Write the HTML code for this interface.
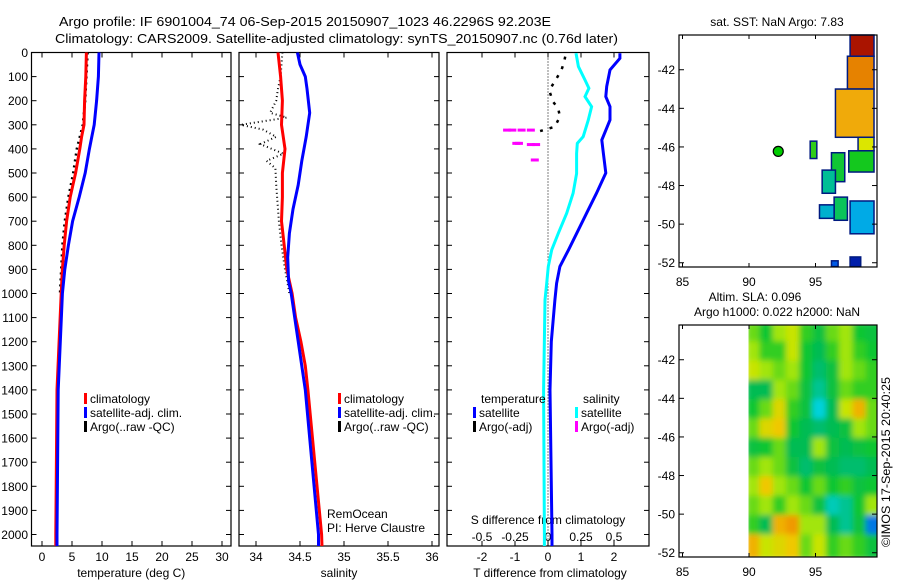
<!DOCTYPE html>
<html><head><meta charset="utf-8"><style>
html,body{margin:0;padding:0;background:#fff;}
svg{display:block;font-family:"Liberation Sans",sans-serif;}
</style></head><body>
<svg id="fig" width="900" height="580" viewBox="0 0 900 580" xmlns="http://www.w3.org/2000/svg">
<defs>
<clipPath id="c1"><rect x="31.5" y="52.5" width="199.5" height="493.5"/></clipPath>
<clipPath id="c2"><rect x="239" y="52.5" width="200" height="493.5"/></clipPath>
<clipPath id="c3"><rect x="447" y="52.5" width="202" height="493.5"/></clipPath>
<clipPath id="cm2"><rect x="748.5" y="325" width="128.5" height="232"/></clipPath>
<filter id="blur"><feGaussianBlur stdDeviation="3"/></filter>
</defs>
<g id="root"></g>
</svg>
<script>
// ---------- data ----------
const tDepth = [0,100,200,300,350,400,500,600,700,800,900,1000,1400,2000,2050];
const tClim  = [7.4,7.3,7.1,7.0,6.6,6.3,5.6,4.7,4.1,3.7,3.4,3.2,2.5,2.3,2.3];
const tSat   = [9.5,9.4,9.1,8.7,8.3,7.9,7.2,6.2,5.1,4.4,3.8,3.4,2.7,2.5,2.5];
const argoTDepth = [0,100,200,300,400,500,600,700,800,900,1000];
const argoT      = [7.6,7.4,7.2,6.8,5.8,5.2,4.4,3.8,3.4,3.2,3.0];

const sClimDepth = [0,100,200,300,400,500,600,700,800,900,1000,1100,1200,1300,1400,2000,2050];
const sClim      = [34.25,34.28,34.30,34.29,34.33,34.30,34.30,34.29,34.32,34.35,34.41,34.45,34.51,34.56,34.59,34.745,34.75];
const sSatDepth  = [0,50,100,150,250,350,450,550,650,750,850,950,1000,1400,2000,2050];
const sSat       = [34.47,34.50,34.56,34.58,34.61,34.57,34.52,34.48,34.42,34.38,34.36,34.37,34.40,34.56,34.71,34.71];
const argoSDepth = [0,100,150,200,250,270,300,320,350,380,420,450,480,550,700,800,900,1000];
const argoS      = [34.30,34.28,34.25,34.23,34.16,34.35,33.83,34.08,34.23,34.05,34.31,34.12,34.22,34.23,34.26,34.29,34.33,34.38];

const tdDepth = [3,24,72,141,183,225,280,363,419,500,584,667,750,819,888,958,1027,1200,1400,2000,2050];
const tdSat   = [2.18,2.18,1.88,1.78,1.75,1.88,1.88,1.63,1.68,1.75,1.47,1.17,0.87,0.62,0.36,0.26,0.21,0.10,0.06,0.12,0.12];
const sdDepth = [3,58,114,148,183,225,280,349,377,419,502,584,667,750,819,888,958,1027,1400,2000,2050];
const sdSat   = [0.212,0.23,0.28,0.31,0.28,0.33,0.305,0.267,0.222,0.217,0.217,0.19,0.142,0.078,0.028,0.002,-0.01,-0.023,-0.033,-0.027,-0.027];
const tdArgoDepth = [17,38,72,107,141,162,204,232,266,308,326];
const tdArgo      = [0.52,0.49,0.41,0.26,0.11,0.05,0.15,0.31,0.36,0.21,-0.24];
const sdArgoDepth = [322,322,322,322,377,377,382,382,446];
const sdArgo      = [-0.31,-0.27,-0.20,-0.13,-0.24,-0.22,-0.13,-0.09,-0.10];

const depthTicks = [0,100,200,300,400,500,600,700,800,900,1000,1100,1200,1300,1400,1500,1600,1700,1800,1900,2000];
const tTicks = [0,5,10,15,20,25,30];
const sTicks = [34,34.5,35,35.5,36];
const sTickLabels = ["34","34.5","35","35.5","36"];
const tdTicks = [-2,-1,0,1,2];
const sdTicks = [-0.5,-0.25,0,0.25,0.5];
const sdTickLabels = ["-0.5","-0.25","0","0.25","0.5"];
const latTicks = [-42,-44,-46,-48,-50,-52];
const lonTicks = [85,90,95];

const sstPatches = [
 [97.6,99.4,-40.2,-41.3,12],[97.4,99.4,-41.3,-43.0,10],[96.5,99.4,-43.0,-45.5,9],
 [98.2,99.4,-45.5,-46.2,7.5],[97.5,99.4,-46.2,-47.3,6],[94.6,95.1,-45.7,-46.6,6.2],
 [96.2,97.2,-46.3,-47.8,5.8],[95.5,96.5,-47.2,-48.4,5],[96.4,97.4,-48.6,-49.8,5.5],
 [95.3,96.4,-49.0,-49.7,4.3],[97.6,99.4,-48.8,-50.5,4],[97.6,98.4,-51.7,-52.2,2],[96.2,96.7,-51.9,-52.2,3]
];
const argoLon = 92.2, argoLat = -46.23;
const slaLon0 = 90, slaLat0 = -40.2;
const slaGrid = [
 [0.3,0.1,0.4,0.5,0.2,0.0,0.3,0.4,0.1,0.0],
 [0.4,0.2,0.2,0.5,0.1,-0.1,0.2,0.4,0.2,0.1],
 [0.5,0.4,0.3,0.4,0.1,-0.2,0.0,0.4,0.3,0.2],
 [-0.1,-0.1,0.4,0.3,0.0,-0.3,0.0,0.3,0.2,0.2],
 [0.1,0.3,0.6,0.2,0.0,-0.5,-0.1,0.5,0.8,0.3],
 [0.3,0.6,0.7,0.1,-0.1,-0.2,-0.1,0.0,0.4,0.3],
 [0.0,0.1,0.3,-0.1,-0.1,0.4,0.0,-0.1,0.0,0.1],
 [0.3,0.4,0.3,0.0,-0.2,0.0,-0.1,-0.2,-0.2,-0.1],
 [0.4,0.7,0.4,0.3,0.1,0.3,0.1,0.2,0.0,0.1],
 [0.3,0.4,0.2,0.4,0.3,0.0,-0.4,-0.3,0.1,0.4],
 [0.2,-0.1,0.8,0.9,0.4,0.4,-0.1,-0.3,0.0,-0.8],
 [0.8,0.5,0.6,0.7,0.3,0.5,0.2,0.3,0.2,0.0]
];

// ---------- scales ----------
const depthY = d => 52.5 + d*0.241;
const tX = t => 42 + 6*t;
const sX = s => 256 + 88*(s-34);
const dX = v => 548 + 33*v;
const sdX = v => 548 + 132*v;
const lonX = l => 682.5 + 13.3*(l-85);
const latY = (lat, top) => top + (-40.2-lat)*19.3;

const NS = "http://www.w3.org/2000/svg";
const root = document.getElementById('root');
function mk(tag, attrs, parent){
  const e = document.createElementNS(NS, tag);
  for (const k in attrs) e.setAttribute(k, attrs[k]);
  (parent||root).appendChild(e);
  return e;
}
function txt(x,y,s,size,anchor,parent){
  const e = mk('text',{x:x,y:y,'font-size':size||12,'text-anchor':anchor||'middle',fill:'#000'},parent);
  e.textContent = s; return e;
}
function line(xs, ys, color, w, dash, clip, name){
  const pts = xs.map((x,i)=>x.toFixed(1)+','+ys[i].toFixed(1)).join(' ');
  const a = {points:pts,fill:'none',stroke:color,'stroke-width':w,'stroke-linejoin':'miter'};
  if (dash) a['stroke-dasharray']=dash;
  if (clip) a['clip-path']='url(#'+clip+')';
  const e = mk('polyline',a);
  
  
  return e;
}

// ---------- titles ----------
let t1 = txt(59,26,"Argo profile: IF 6901004_74 06-Sep-2015 20150907_1023 46.2296S 92.203E",13,'start');
t1.setAttribute('textLength','492'); t1.setAttribute('lengthAdjust','spacingAndGlyphs');


let t2 = txt(55,43,"Climatology: CARS2009. Satellite-adjusted climatology: synTS_20150907.nc (0.76d later)",13,'start');
t2.setAttribute('textLength','563'); t2.setAttribute('lengthAdjust','spacingAndGlyphs');



// ---------- panel frames & ticks ----------
const panels = [
 {x0:31.5,x1:231,name:'temperature-panel',ticks:tTicks,labels:tTicks.map(String),sc:tX,title:'temperature (deg C)'},
 {x0:239,x1:439,name:'salinity-panel',ticks:sTicks,labels:sTickLabels,sc:sX,title:'salinity'},
 {x0:447,x1:649,name:'difference-panel',ticks:tdTicks,labels:tdTicks.map(String),sc:dX,title:'T difference from climatology'}
];
const yTop=52.5, yBot=546;
panels.forEach((p,pi)=>{
  const g = mk('g',{});
  
  
  const r = mk('rect',{x:p.x0,y:yTop,width:p.x1-p.x0,height:yBot-yTop,fill:'none',stroke:'#000','stroke-width':1.2},g);
  
  
  depthTicks.forEach(d=>{
    const y=depthY(d);
    mk('line',{x1:p.x0,x2:p.x0+5,y1:y,y2:y,stroke:'#000'},g);
    mk('line',{x1:p.x1-5,x2:p.x1,y1:y,y2:y,stroke:'#000'},g);
  });
  p.ticks.forEach((v,i)=>{
    const x=p.sc(v);
    mk('line',{x1:x,x2:x,y1:yTop,y2:yTop+5,stroke:'#000'},g);
    mk('line',{x1:x,x2:x,y1:yBot-5,y2:yBot,stroke:'#000'},g);
    const l = txt(x,561,p.labels[i],12,'middle',g);
    
    
  });
  const at = txt((p.x0+p.x1)/2+ (pi==2?2:0),577,p.title,12,'middle',g);
  
  
});
depthTicks.forEach(d=>{
  const l = txt(28,depthY(d)+4.5,String(d),12,'end');
  
  
});
sdTicks.forEach((v,i)=>{
  const l = txt(sdX(v),541,sdTickLabels[i],12,'middle');
  
  
});
let sdt = txt(548,524,"S difference from climatology",12,'middle');


let zl = mk('line',{x1:dX(0),x2:dX(0),y1:yTop,y2:yBot,stroke:'#000','stroke-width':1,'stroke-dasharray':'1,2'});



// ---------- series ----------
line(argoT.map(tX), argoTDepth.map(depthY), '#000', 2.5, '2,4', 'c1', 'argo-temperature-line');
line(tClim.map(tX), tDepth.map(depthY), '#f00', 3, null, 'c1', 'climatology-temperature-line');
line(tSat.map(tX), tDepth.map(depthY), '#00f', 3, null, 'c1', 'satellite-temperature-line');

line(argoS.map(sX), argoSDepth.map(depthY), '#000', 2, '1,3', 'c2', 'argo-salinity-line');
line(sClim.map(sX), sClimDepth.map(depthY), '#f00', 3, null, 'c2', 'climatology-salinity-line');
line(sSat.map(sX), sSatDepth.map(depthY), '#00f', 3, null, 'c2', 'satellite-salinity-line');

line(tdSat.map(dX), tdDepth.map(depthY), '#00f', 3, null, 'c3', 'satellite-t-diff-line');
line(sdSat.map(sdX), sdDepth.map(depthY), '#0ff', 3, null, 'c3', 'satellite-s-diff-line');
line(tdArgo.map(dX), tdArgoDepth.map(depthY), '#000', 2.5, '3,7', 'c3', 'argo-t-diff-line');
sdArgo.forEach((v,i)=>{
  const r = mk('rect',{x:sdX(v)-4,y:depthY(sdArgoDepth[i])-1.5,width:8,height:3,fill:'#f0f'});
  
  
});

// ---------- legends ----------
function legend(x,y,color,label,name){
  const g = mk('g',{});
  
  
  mk('rect',{x:x,y:y-10,width:3,height:11,fill:color},g);
  txt(x+6,y,label,12,'start',g);
}
legend(84,403,'#f00','climatology','legend-climatology');
legend(84,417,'#00f','satellite-adj. clim.','legend-satellite');
legend(84,431,'#000','Argo(..raw -QC)','legend-argo');
legend(338,403,'#f00','climatology','legend-s-climatology');
legend(338,417,'#00f','satellite-adj. clim.','legend-s-satellite');
legend(338,431,'#000','Argo(..raw -QC)','legend-s-argo');
let lt = txt(481,403,'temperature',12,'start');


let ls = txt(583,403,'salinity',12,'start');


legend(473,417,'#00f','satellite','legend-t-satellite');
legend(473,431,'#000','Argo(-adj)','legend-t-argo');
legend(575,417,'#0ff','satellite','legend-s-sat');
legend(575,431,'#f0f','Argo(-adj)','legend-s-argo-adj');
let ro = txt(327,518,'RemOcean',12,'start');


let pi2 = txt(327,532,'PI: Herve Claustre',12,'start');



// ---------- maps ----------
function mapFrame(top,name){
  const g = mk('g',{});
  
  
  mk('rect',{x:679,y:top,width:198,height:232,fill:'none',stroke:'#000','stroke-width':1.2},g);
  latTicks.forEach(l=>{
    const y=latY(l,top);
    mk('line',{x1:679,x2:684,y1:y,y2:y,stroke:'#000'},g);
    mk('line',{x1:872,x2:877,y1:y,y2:y,stroke:'#000'},g);
    const t = txt(675,y+4.5,String(l),12,'end',g);
    
    
  });
  lonTicks.forEach(l=>{
    const x=lonX(l);
    mk('line',{x1:x,x2:x,y1:top,y2:top+4,stroke:'#000'},g);
    mk('line',{x1:x,x2:x,y1:top+228,y2:top+232,stroke:'#000'},g);
    const t = txt(x,top+251,String(l),12,'middle',g);
    
    
  });
  return g;
}
function sstColor(t){
  const stops=[[2,[0,30,170]],[3,[0,90,230]],[4,[0,170,230]],[5,[0,190,150]],[6,[20,200,30]],[7.5,[220,230,0]],[9,[240,170,10]],[10,[230,130,0]],[12,[170,20,0]]];
  for(let i=0;i<stops.length-1;i++){
    const [a,ca]=stops[i],[b,cb]=stops[i+1];
    if(t<=b){const f=Math.max(0,(t-a)/(b-a));return 'rgb('+ca.map((c,j)=>Math.round(c+(cb[j]-c)*f)).join(',')+')';}
  }
  return 'rgb(170,20,0)';
}
function slaColor(v){
  const stops=[[-0.9,[0,90,230]],[-0.5,[0,210,220]],[-0.15,[0,185,90]],[0.15,[20,200,40]],[0.45,[190,235,0]],[0.7,[240,200,0]],[1.0,[240,130,0]]];
  if(v<=stops[0][0]) return 'rgb(0,90,230)';
  for(let i=0;i<stops.length-1;i++){
    const [a,ca]=stops[i],[b,cb]=stops[i+1];
    if(v<=b){const f=(v-a)/(b-a);return 'rgb('+ca.map((c,j)=>Math.round(c+(cb[j]-c)*f)).join(',')+')';}
  }
  return 'rgb(240,130,0)';
}
sstPatches.forEach(p=>{
  const x0=lonX(p[0]),x1=lonX(p[1]),y0=latY(p[2],35),y1=latY(p[3],35);
  const r = mk('rect',{x:x0,y:y0,width:x1-x0,height:y1-y0,fill:sstColor(p[4]),stroke:'#001a80','stroke-width':1.5});
  
  
});
mapFrame(35,'sst-map');
let am = mk('circle',{cx:lonX(argoLon),cy:latY(argoLat,35),r:5,fill:'#00cc00',stroke:'#000','stroke-width':1.2});


let st = txt(777,26,'sat. SST: NaN Argo: 7.83',12,'middle');



const slaG = mk('g',{'clip-path':'url(#cm2)'});


const slaInner = mk('g',{filter:'url(#blur)'},slaG);
slaGrid.forEach((row,ri)=>{
  row.forEach((v,ci)=>{
    const x0=lonX(slaLon0+ci)-3, x1=lonX(slaLon0+ci+1)+3;
    const y0=latY(slaLat0-ri,325)-3, y1=latY(slaLat0-ri-1,325)+3;
    const c = mk('rect',{x:x0,y:y0,width:x1-x0,height:y1-y0,fill:slaColor(v)},slaInner);
    
    
  });
});
mapFrame(325,'sla-map');
let a1 = txt(755,301,'Altim. SLA: 0.096',12,'middle');


let a2 = txt(777,316,'Argo h1000: 0.022 h2000: NaN',12,'middle');


let cp = txt(0,0,'©IMOS 17-Sep-2015 20:40:25',12,'middle');
cp.setAttribute('transform','translate(890,462) rotate(-90)');
cp.setAttribute('textLength','170'); cp.setAttribute('lengthAdjust','spacingAndGlyphs');


</script>
</body></html>
